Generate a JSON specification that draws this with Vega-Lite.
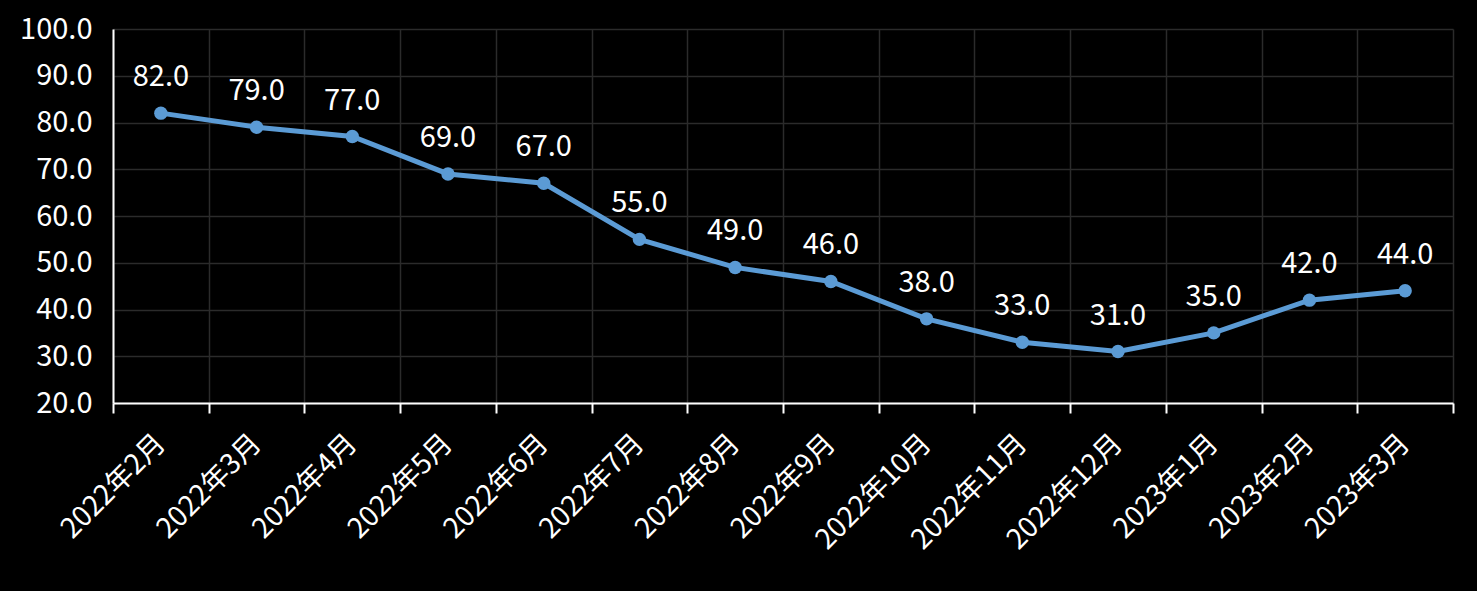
{
  "$schema": "https://vega.github.io/schema/vega-lite/v6.json",
  "width": 1340,
  "height": 374,
  "autosize": {"type": "none"},
  "padding": {"left": 113, "top": 29, "right": 24, "bottom": 188},
  "background": "#000000",
  "config": {"view": {"stroke": null}, "font": "Noto Sans CJK SC"},
  "data": {"values": [
    {"month": "2022年2月", "value": 82.0},
    {"month": "2022年3月", "value": 79.0},
    {"month": "2022年4月", "value": 77.0},
    {"month": "2022年5月", "value": 69.0},
    {"month": "2022年6月", "value": 67.0},
    {"month": "2022年7月", "value": 55.0},
    {"month": "2022年8月", "value": 49.0},
    {"month": "2022年9月", "value": 46.0},
    {"month": "2022年10月", "value": 38.0},
    {"month": "2022年11月", "value": 33.0},
    {"month": "2022年12月", "value": 31.0},
    {"month": "2023年1月", "value": 35.0},
    {"month": "2023年2月", "value": 42.0},
    {"month": "2023年3月", "value": 44.0}
  ]},
  "encoding": {
    "x": {
      "field": "month", "type": "ordinal", "sort": null,
      "scale": {"type": "band", "paddingInner": 0, "paddingOuter": 0},
      "axis": {
        "title": null, "labelAngle": -45, "labelAlign": "right", "labelBaseline": "middle",
        "labelFontSize": 28, "labelColor": "#ffffff", "labelPadding": 26, "labelOverlap": false,
        "domainColor": "#ffffff", "domainWidth": 2, "tickColor": "#ffffff", "tickWidth": 2, "tickSize": 10,
        "tickBand": "extent", "grid": true, "gridColor": "#2b2b2b", "gridWidth": 1.5
      }
    },
    "y": {
      "field": "value", "type": "quantitative",
      "scale": {"domain": [20, 100], "nice": false, "zero": false},
      "axis": {
        "title": null, "format": ".1f", "values": [20,30,40,50,60,70,80,90,100],
        "labelFontSize": 29, "labelColor": "#ffffff", "labelPadding": 21, "labelOverlap": false,
        "ticks": false, "domainColor": "#ffffff", "domainWidth": 2,
        "grid": true, "gridColor": "#2b2b2b", "gridWidth": 1.5
      }
    }
  },
  "layer": [
    {"mark": {"type": "line", "color": "#5b9bd5", "strokeWidth": 5}},
    {"mark": {"type": "point", "filled": true, "opacity": 1, "color": "#5b9bd5", "size": 180}},
    {"mark": {"type": "text", "color": "#ffffff", "fontSize": 29, "baseline": "alphabetic", "dy": -27},
     "encoding": {"text": {"field": "value", "type": "quantitative", "format": ".1f"}}}
  ]
}
